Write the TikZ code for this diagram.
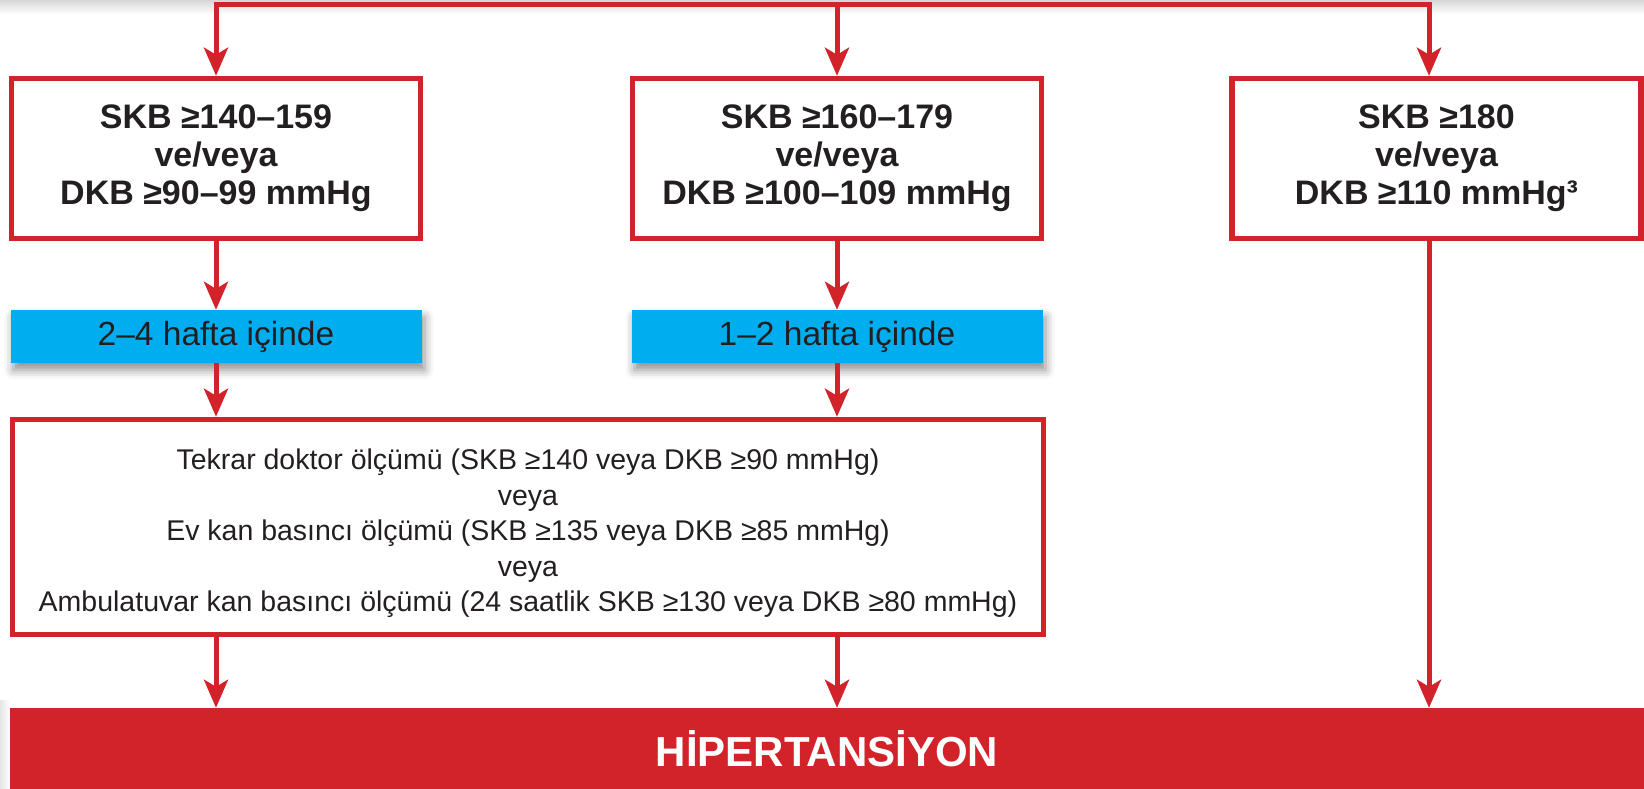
\documentclass[tikz,border=0pt]{standalone}
\usepackage{fontspec}
\setmainfont{Liberation Sans}
\usetikzlibrary{arrows.meta,shadows.blur}
\definecolor{flowred}{HTML}{D2232A}
\definecolor{flowblue}{HTML}{00AEEF}
\definecolor{ink}{HTML}{231F20}

\begin{document}
\begin{tikzpicture}[x=1pt,y=-1pt,
  redbox/.style={draw=flowred, line width=5.5pt, fill=white, align=center,
    text=ink, inner sep=0pt, minimum width=409pt, minimum height=160pt,
    font=\fontsize{34}{38}\selectfont\bfseries},
  bluebox/.style={fill=flowblue, text=ink, inner sep=0pt, minimum width=411pt,
    minimum height=53pt, font=\fontsize{33.5}{38}\selectfont,
    blur shadow={shadow xshift=3pt, shadow yshift=-7pt,
      shadow blur radius=9pt, shadow opacity=45}},
  checkbox/.style={draw=flowred, line width=5.5pt, fill=white, align=center,
    text=ink, inner sep=0pt, minimum width=1031pt, minimum height=215pt,
    font=\fontsize{28.5}{35.5}\selectfont},
  resultbar/.style={fill=flowred, text=white, inner sep=0pt,
    minimum width=1634pt, minimum height=81pt,
    font=\fontsize{42}{46}\selectfont\bfseries},
  tip/.tip={Stealth[length=28pt, width=24pt, inset=7pt]},
  flow/.style={draw=flowred, line width=5pt, -tip},
]
\useasboundingbox (0,0) rectangle (1644,789);

% faint shading along the upper edge and left of the result bar
\shade[top color=black!16, bottom color=white] (0,0) rectangle (1644,14);
\shade[left color=black!10, right color=white] (0,700) rectangle (10,789);

% rail anchors
\coordinate (tl) at (216,5);
\coordinate (tr) at (1429,5);

% threshold boxes
\node[redbox] (b1) at (216,158.5) {SKB ≥140–159\\ve/veya\\DKB ≥90–99 mmHg};
\node[redbox] (b2) at (837,158.5) {SKB ≥160–179\\ve/veya\\DKB ≥100–109 mmHg};
\node[redbox] (b3) at (1436.5,158.5) {SKB ≥180\\ve/veya\\DKB ≥110 mmHg³};

% time windows
\node[bluebox] (w1) at (216,336.5) {2–4 hafta içinde};
\node[bluebox] (w2) at (837,336.5) {1–2 hafta içinde};

% confirmation measurements
\node[checkbox] (c) at (528,527) {\rule{0pt}{34pt}Tekrar doktor ölçümü (SKB ≥140 veya DKB ≥90 mmHg)\\veya\\Ev kan basıncı ölçümü (SKB ≥135 veya DKB ≥85 mmHg)\\veya\\Ambulatuvar kan basıncı ölçümü (24 saatlik SKB ≥130 veya DKB ≥80 mmHg)};

% diagnosis
\node[resultbar] (h) at (827,748.5) {HİPERTANSİYON};

% connectors
\draw[flowred, line width=5pt, tip-tip] (b1.north) -- (tl) -- (tr) -- (tr |- b3.north);
\draw[flow] (b2.north |- tl) -- (b2.north);
\draw[flow] (b1.south) -- (w1.north);
\draw[flow] (b2.south) -- (w2.north);
\draw[flow] (w1.south) -- (w1.south |- c.north);
\draw[flow] (w2.south) -- (w2.south |- c.north);
\draw[flow] (c.south -| w1) -- (h.north -| w1);
\draw[flow] (c.south -| w2) -- (h.north -| w2);
\draw[flow] (tr |- b3.south) -- (tr |- h.north);
\end{tikzpicture}
\end{document}
